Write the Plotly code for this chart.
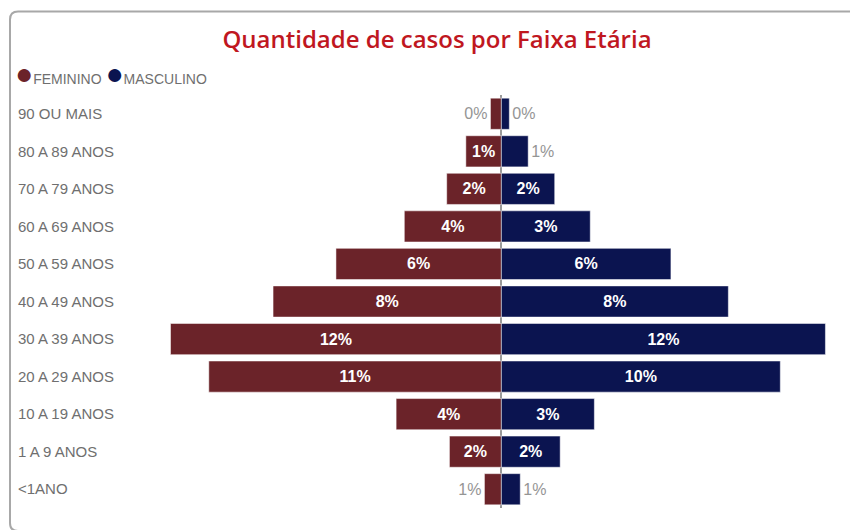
import plotly.graph_objects as go

# ---- data ----
categories = ["<1ANO", "1 A 9 ANOS", "10 A 19 ANOS", "20 A 29 ANOS", "30 A 39 ANOS",
              "40 A 49 ANOS", "50 A 59 ANOS", "60 A 69 ANOS", "70 A 79 ANOS",
              "80 A 89 ANOS", "90 OU MAIS"]
feminino = [0.62, 1.9, 3.85, 10.7, 12.1, 8.35, 6.05, 3.55, 2.0, 1.3, 0.4]
masculino = [0.69, 2.15, 3.4, 10.2, 11.85, 8.3, 6.2, 3.25, 1.95, 0.98, 0.29]
series_names = ["FEMININO", "MASCULINO"]
title_text = "Quantidade de casos por Faixa Etária"

# ---- style ----
W, H = 850, 530
L, R, T, B = 14, 15, 95, 22
C_F = "#6B2329"
C_M = "#0B1450"
C_TXT = "#6f6f6f"


def fmt(v):
    return f"{int(v + 0.5)}%"


def pos(v):
    return "inside" if v >= 1.2 else "outside"


def px2paper_x(px):
    return (px - L) / (W - L - R)


def px2paper_y(py):
    return (H - B - py) / (H - T - B)


fig = go.Figure()
for vals, sign, name, color in [(feminino, -1, series_names[0], C_F),
                                (masculino, 1, series_names[1], C_M)]:
    fig.add_trace(go.Bar(
        y=categories, x=[sign * v for v in vals], orientation="h", name=name,
        marker=dict(color=color, line=dict(color="rgba(255,255,255,0.5)", width=1)),
        text=[fmt(v) for v in vals], textposition=[pos(v) for v in vals],
        insidetextanchor="middle",
        insidetextfont=dict(family="Liberation Sans", size=16, color="white", weight="bold"),
        outsidetextfont=dict(family="Liberation Sans", size=16, color="#959595"),
        constraintext="none", cliponaxis=False, showlegend=False,
    ))

# card border (rounded on the left, extends beyond right/bottom edges)
x0, x1 = px2paper_x(10), px2paper_x(870)
y0, y1 = px2paper_y(11.5), px2paper_y(531)
rx = 8 / (W - L - R)
ry = 8 / (H - T - B)
path = (f"M {x1},{y0} L {x0 + rx},{y0} Q {x0},{y0} {x0},{y0 - ry} "
        f"L {x0},{y1 + ry} Q {x0},{y1} {x0 + rx},{y1} L {x1},{y1}")

legend_html = (f"<span style='color:{C_F};font-size:30px'>●</span>{series_names[0]} "
               f"<span style='color:{C_M};font-size:30px'>●</span>{series_names[1]}")

fig.update_layout(
    width=W, height=H,
    margin=dict(l=L, r=R, t=T, b=B),
    paper_bgcolor="white", plot_bgcolor="rgba(0,0,0,0)",
    barmode="relative", bargap=0.17,
    title=dict(text=title_text, x=437 / W, xanchor="center", y=1 - 40 / H, yanchor="middle",
               font=dict(family="Open Sans", size=24, color="#C0171F", weight=600)),
    xaxis=dict(range=[-12.85, 12.2], domain=[px2paper_x(150), 1], showticklabels=False,
               showgrid=False, zeroline=True, zerolinecolor="#9a9a9a", zerolinewidth=1.5,
               layer="above traces", fixedrange=True),
    yaxis=dict(categoryorder="array", categoryarray=categories, anchor="free", position=0,
               ticklabelposition="inside", ticks="", showgrid=False, showline=False,
               tickfont=dict(family="Liberation Sans", size=15, color=C_TXT)),
    shapes=[dict(type="path", path=path, xref="paper", yref="paper",
                 line=dict(color="#a8a8a8", width=2))],
    annotations=[dict(text=legend_html, xref="paper", yref="paper",
                      x=px2paper_x(13), y=px2paper_y(73), xanchor="left", yanchor="middle",
                      showarrow=False, font=dict(family="Liberation Sans", size=14, color=C_TXT))],
)

fig.write_html("out.html", config={"displayModeBar": False},
               post_script="document.body.style.margin='0px';")
